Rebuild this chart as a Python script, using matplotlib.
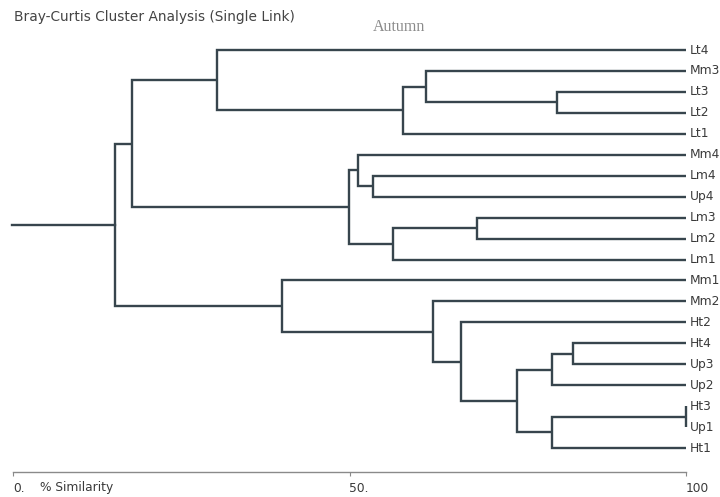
"""Bray-Curtis single-link dendrogram (Autumn)."""
import matplotlib
matplotlib.use("Agg")
import matplotlib.pyplot as plt

# leaves, top to bottom
LEAVES = ["Lt4", "Mm3", "Lt3", "Lt2", "Lt1", "Mm4", "Lm4", "Up4", "Lm3", "Lm2",
          "Lm1", "Mm1", "Mm2", "Ht2", "Ht4", "Up3", "Up2", "Ht3", "Up1", "Ht1"]

# merges: (left, right, % similarity); ints are leaf indices, "n<k>" earlier merges
MERGE_LEFT = [2, 1, "n1", 0, 6, 5, 8, "n6", "n5", "n3", 14, "n10", 17, "n12", "n11", 13, 12, 11, "n9"]
MERGE_RIGHT = [3, "n0", 4, "n2", 7, "n4", 9, 10, "n7", "n8", 15, 16, 18, 19, "n13", "n14", "n15", "n16", "n17"]
MERGE_SIM = [80.8, 61.4, 58.0, 30.3, 53.5, 51.3, 68.9, 56.5, 49.9, 17.7,
             83.2, 80.1, 100.0, 80.1, 74.9, 66.6, 62.4, 40.0, 15.2]

LEAF_END = 100.0
TICKS = [0, 50, 100]
TICK_LABELS = ["0.", "50.", "100"]

LINE = "#37454d"
TEXT = "#3a3a3a"
SANS = "DejaVu Sans"

fig = plt.figure(figsize=(7.2, 4.97), dpi=100)
ax = fig.add_axes([13 / 720, 25 / 497, 673 / 720, 472 / 497])
ax.set_xlim(0, 100)
ax.set_ylim(20.14, -2.387)

# node positions
pos = {}
for i, name in enumerate(LEAVES):
    pos[i] = (LEAF_END, i)


def get(k):
    return pos[int(k[1:]) + 1000] if isinstance(k, str) else pos[k]


for k, (a, b, s) in enumerate(zip(MERGE_LEFT, MERGE_RIGHT, MERGE_SIM)):
    xa, ya = get(a)
    xb, yb = get(b)
    ax.plot([xa, s, s, xb], [ya, ya, yb, yb], color=LINE, lw=1.7,
            solid_joinstyle="miter", solid_capstyle="butt", clip_on=False)
    pos[1000 + k] = (s, (ya + yb) / 2)

root_x, root_y = pos[1000 + len(MERGE_SIM) - 1]
ax.plot([-0.2, root_x], [root_y, root_y], color=LINE, lw=1.7, clip_on=False)

for i, name in enumerate(LEAVES):
    ax.text(100.6, i, name, ha="left", va="center", fontsize=8.8,
            family=SANS, color=TEXT, clip_on=False)

# scale axis
for side in ("top", "left", "right"):
    ax.spines[side].set_visible(False)
ax.spines["bottom"].set_color("#8a8a8a")
ax.spines["bottom"].set_linewidth(1.0)
ax.set_yticks([])
ax.set_xticks(TICKS)
ax.set_xticklabels(TICK_LABELS, ha="left")
ax.tick_params(axis="x", direction="out", length=3, color="#8a8a8a",
               labelsize=8.8, labelcolor=TEXT, pad=4)
for lab in ax.get_xticklabels():
    lab.set_family(SANS)

fig.text(40 / 720, 1 - 488 / 497, "% Similarity", ha="left", va="center",
         fontsize=8.8, family=SANS, color=TEXT)
fig.text(14 / 720, 1 - 17 / 497, "Bray-Curtis Cluster Analysis (Single Link)",
         ha="left", va="center", fontsize=9.9, family=SANS, color="#444444")
fig.text(399 / 720, 1 - 27 / 497, "Autumn", ha="center", va="center",
         fontsize=11.5, family="Liberation Serif", color="#8a8a8a")

fig.savefig("out.png", dpi=100)
